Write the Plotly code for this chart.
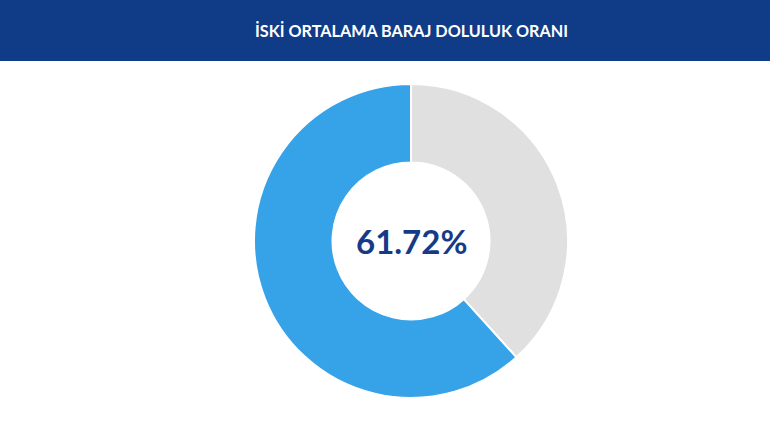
import plotly.graph_objects as go

# Baraj doluluk verisi
etiketler = ['Boş', 'Dolu']
degerler = [38.28, 61.72]
renkler = ['#e0e0e0', '#36a2e8']
baslik = 'İSKİ ORTALAMA BARAJ DOLULUK ORANI'
oran_metni = '61.72%'

W, H = 770, 437

fig = go.Figure(go.Pie(
    labels=etiketler, values=degerler,
    hole=0.5, sort=False, direction='clockwise', rotation=0,
    marker=dict(colors=renkler, line=dict(color='white', width=2)),
    textinfo='none', hoverinfo='label+percent',
    domain=dict(x=[254 / W, 568 / W], y=[(H - 398) / H, (H - 84) / H]),
))

# Üst başlık bandı
fig.add_shape(type='rect', xref='paper', yref='paper',
              x0=0, x1=1, y0=(H - 61) / H, y1=1,
              fillcolor='#0f3b87', line_width=0, layer='below')
fig.add_annotation(text=f'<b>{baslik}</b>', xref='paper', yref='paper',
                   x=411 / W, y=(H - 19) / H, showarrow=False,
                   font=dict(family='Lato', size=16.2, color='white'))
# Ortadaki oran
fig.add_annotation(text=f'<b>{oran_metni}</b>', xref='paper', yref='paper',
                   x=411 / W, y=(H - 241) / H, showarrow=False,
                   font=dict(family='Lato', size=33, color='#163a87'))

fig.update_layout(
    width=W, height=H, showlegend=False,
    margin=dict(l=0, r=0, t=0, b=0),
    paper_bgcolor='white', plot_bgcolor='white',
)

# sayfa kenar boşluğunu kaldır
fig.write_html('out.html', config={'displayModeBar': False},
               post_script="document.body.style.margin='0';")
